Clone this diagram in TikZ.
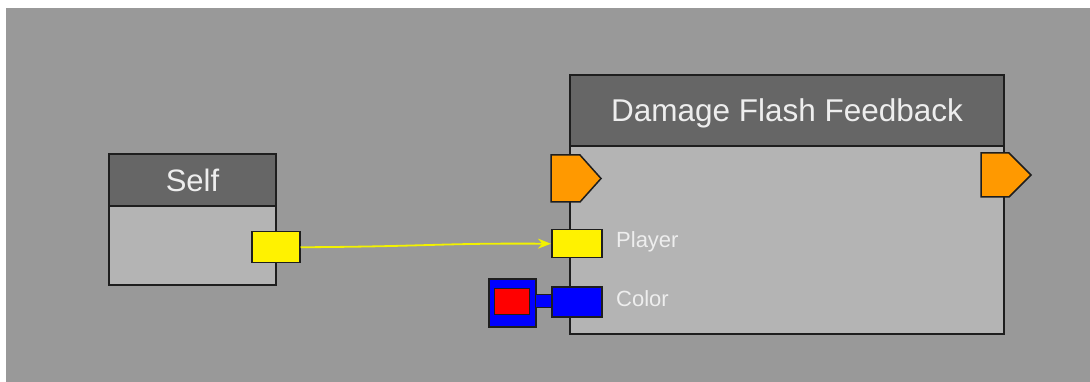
\documentclass[tikz,border=0pt]{standalone}
\usepackage{fontspec}
\setmainfont{Liberation Sans}
\usetikzlibrary{arrows.meta}
\definecolor{bg}{HTML}{999999}
\definecolor{bodyc}{HTML}{B4B4B4}
\definecolor{headc}{HTML}{666666}
\definecolor{edgec}{HTML}{1E1E1E}
\definecolor{txt}{HTML}{EEEEEE}
\definecolor{execc}{HTML}{FF9900}
\definecolor{wirey}{HTML}{F2F200}
\tikzset{
  nodebody/.style={draw=edgec, line width=2pt, fill=bodyc, inner sep=0pt, anchor=north west},
  nodehead/.style={draw=edgec, line width=2pt, fill=headc, inner sep=0pt, anchor=north west, text=txt, text depth=0pt},
  port/.style={draw=edgec, line width=1.5pt, inner sep=0pt, anchor=north west},
  exec/.style={draw=edgec, line width=1.5pt, fill=execc, line join=miter},
  lbl/.style={text=txt, font=\fontsize{22}{24}\selectfont, anchor=west, inner sep=0pt},
  wire/.style={draw=wirey, line width=1.8pt, -{Stealth[length=13pt,width=10pt]}}
}
\begin{document}
\begin{tikzpicture}[x=1pt,y=-1pt]
\useasboundingbox (0,0) rectangle (1090,382);
\fill[white] (0,0) rectangle (1090,382);
\fill[bg] (6,8) rectangle (1092,384);
% Self node
\node[nodebody, minimum width=167pt, minimum height=131pt] (self) at (108,153) {};
\node[nodehead, minimum width=167pt, minimum height=52pt, font=\fontsize{31}{34}\selectfont] (selfhead) at (108,153) {Self};
\node[port, fill=yellow, minimum width=48pt, minimum height=31pt] (selfout) at (251,231) {};
% Damage Flash Feedback node
\node[nodebody, minimum width=434pt, minimum height=259pt] (dff) at (569,74) {};
\node[nodehead, minimum width=434pt, minimum height=71pt, font=\fontsize{31.5}{34}\selectfont] (dffhead) at (569,74) {Damage Flash Feedback};
% exec ports
\draw[exec] (551,155) coordinate (execin) -- (580,155) -- (601,178.5) -- (580,202) -- (551,202) -- cycle;
\draw[exec] (981,153) coordinate (execout) -- (1009,153) -- (1031,175) -- (1009,197) -- (981,197) -- cycle;
% input ports
\node[port, fill=yellow, minimum width=50pt, minimum height=28pt] (player) at (551,229) {};
\node[lbl] (playerlbl) at (616,242) {Player};
\node[port, fill=blue, minimum width=50pt, minimum height=30pt] (color) at (551,286) {};
\node[lbl] (colorlbl) at (616,299) {Color};
% color constant
\node[port, fill=blue, minimum width=47pt, minimum height=48pt] (colbox) at (488,278) {};
\node[port, fill=red, minimum width=35pt, minimum height=26pt, line width=1.2pt] (colswatch) at (494,288) {};
\node[draw=edgec, line width=1pt, fill=blue, minimum width=16pt, minimum height=13pt, inner sep=0pt] (colbar) at (543,300.5) {};
% wire
\draw[wire] (selfout.east) .. controls (430,246.5) and (440,243) .. (player.west);
\end{tikzpicture}
\end{document}
